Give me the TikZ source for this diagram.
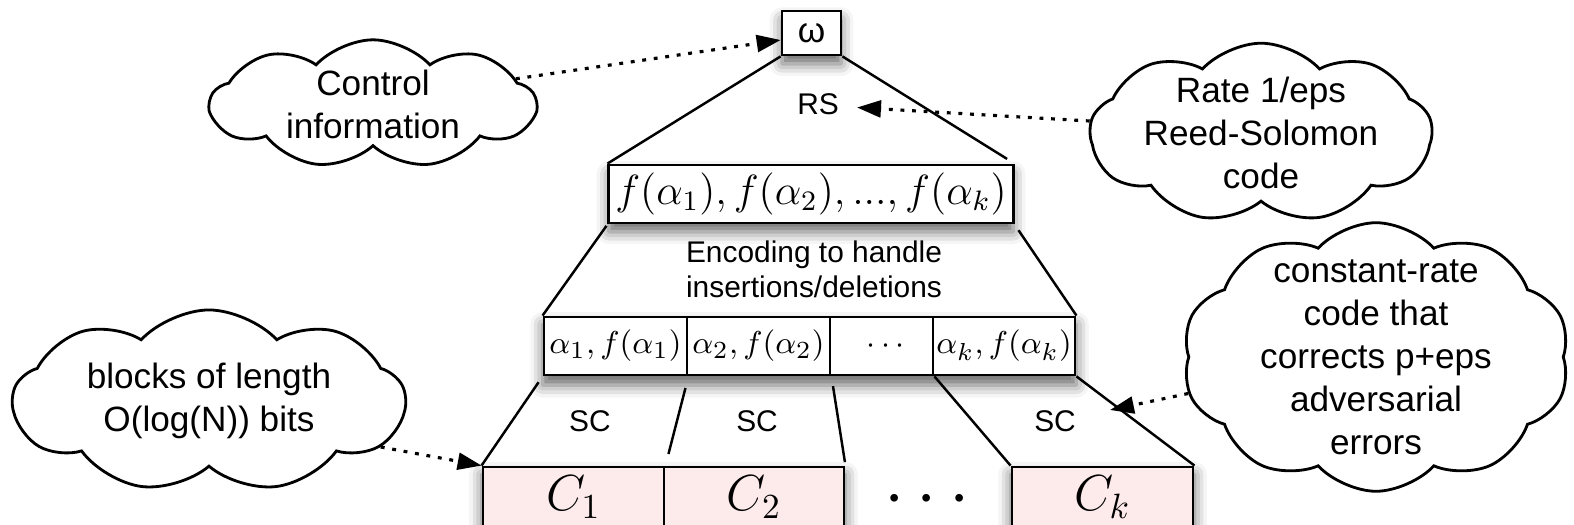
\documentclass[tikz,border=0pt]{standalone}
\usepackage[no-math]{fontspec}
\newfontfamily\helvet{Liberation Sans}
\usetikzlibrary{arrows.meta,shapes.symbols,shadows.blur,backgrounds}

\definecolor{pinkish}{RGB}{253,234,234}

\tikzset{
  shade/.style={fill=white,blur shadow={shadow xshift=0pt,shadow yshift=-2.5pt,
      shadow blur radius=3.5pt,shadow opacity=60}},
  box/.style={draw,line width=0.8pt,inner sep=0pt,shade},
  cell/.style={draw,line width=0.8pt,fill=white,inner sep=0pt,minimum height=0.58cm,
      font=\fontsize{9.4}{11}\selectfont},
  cbox/.style={draw,line width=0.8pt,fill=pinkish,inner sep=0pt,minimum height=0.60cm,
      minimum width=1.81cm,font=\fontsize{14.4}{17}\selectfont},
  bubble/.style={cloud,draw,line width=0.8pt,cloud puffs=9,cloud puff arc=95,
      cloud ignores aspect,inner sep=0pt,align=center,
      font=\helvet\fontsize{10}{12.2}\selectfont},
  lbl/.style={font=\helvet\fontsize{8.5}{10}\selectfont,align=center,inner sep=1pt},
  link/.style={line width=0.7pt},
  note/.style={line width=0.9pt,dash pattern=on 1.1pt off 2.2pt,
      -{Triangle[length=6.8pt,width=4.8pt]}}
}

\begin{document}
\begin{tikzpicture}[x=0.01cm,y=-0.01cm]
\useasboundingbox (0,0) rectangle (1574,525);
\clip (0,0) rectangle (1574,525);

% outer code
\node[box,minimum width=0.59cm,minimum height=0.44cm,
  font=\helvet\fontsize{10}{12}\selectfont] (omega) at (811.5,33) {ω};
\node[box,minimum width=4.04cm,minimum height=0.58cm,font=\large] (fvals) at (811,194)
  {$f(\alpha_1),f(\alpha_2),...,f(\alpha_k)$};
\node[lbl] (rs) at (818,104) {RS};
\node[lbl] (enc) at (814,269) {Encoding to handle\\insertions/deletions};

% pairs (alpha_i, f(alpha_i))
\node[cell,minimum width=1.43cm] (p1) at (615.5,346) {$\alpha_1,f(\alpha_1)$};
\node[cell,minimum width=1.43cm] (p2) at (758.5,346) {$\alpha_2,f(\alpha_2)$};
\node[cell,minimum width=1.03cm] (pd) at (881.5,346) {\hspace{2.5pt}$\cdots$};
\node[cell,minimum width=1.42cm] (pk) at (1004,346) {$\alpha_k,f(\alpha_k)$};

% inner codewords
\node[cbox] (c1) at (573.5,497) {$C_1$};
\node[cbox,minimum width=1.80cm] (c2) at (754,497) {$C_2$};
\node[font=\fontsize{20}{24}\selectfont] (cdots) at (927,500) {$\cdots$};
\node[cbox] (ck) at (1102.5,497) {$C_k$};

\begin{scope}[on background layer]
  \path[shade] (p1.north west) rectangle (pk.south east);
  \path[shade] (c1.north west) rectangle (c2.south east);
  \path[shade] (ck.north west) rectangle (ck.south east);
\end{scope}

\node[lbl] (sc1) at (590,421) {SC};
\node[lbl] (sc2) at (757,421) {SC};
\node[lbl] (sck) at (1055,421) {SC};

% tree lines
\draw[link] (omega.south west) -- (fvals.north west);
\draw[link,shorten >=2.5pt] (omega.south east) -- (fvals.north east);
\draw[link,shorten <=0.5pt] (fvals.south west) -- (p1.north west);
\draw[link,shorten <=2pt] (fvals.south east) -- (pk.north east);
\draw[link,shorten <=2pt] (p1.south west) -- (c1.north west);
\draw[link,shorten <=3.4pt,shorten >=3.4pt] (p1.south east) -- (c1.north east);
\draw[link,shorten <=2.8pt,shorten >=1pt] (p2.south east) -- (c2.north east);
\draw[link] (pd.south east) -- (ck.north west);
\draw[link] (pk.south east) -- (ck.north east);

% remarks
\node[bubble,minimum width=3.25cm,minimum height=1.08cm] (ctrl) at (373,104)
  {Control\\information};
\node[bubble,minimum width=3.42cm,minimum height=1.63cm,inner ysep=-2pt] (rate)
  at (1261,133) {Rate 1/eps\\Reed-Solomon\\code};
\node[bubble,cloud puffs=10,minimum width=3.87cm,minimum height=2.67cm,inner ysep=-4pt]
  (const) at (1376,357)
  {constant-rate\\code that\\corrects p+eps\\adversarial\\errors};
\node[bubble,minimum width=3.92cm,minimum height=1.82cm] (blocks) at (209,401)
  {blocks of length\\O(log(N)) bits};

\coordinate (scend) at (1110,410);
\draw[note] (ctrl.10) -- ([yshift=-2pt]omega.west);
\draw[note] (rate.176) -- ([xshift=4pt,yshift=-1pt]rs.east);
\draw[note] (const.191) -- (scend);
\draw[note] (blocks.345) -- (c1.north west);
\end{tikzpicture}
\end{document}
